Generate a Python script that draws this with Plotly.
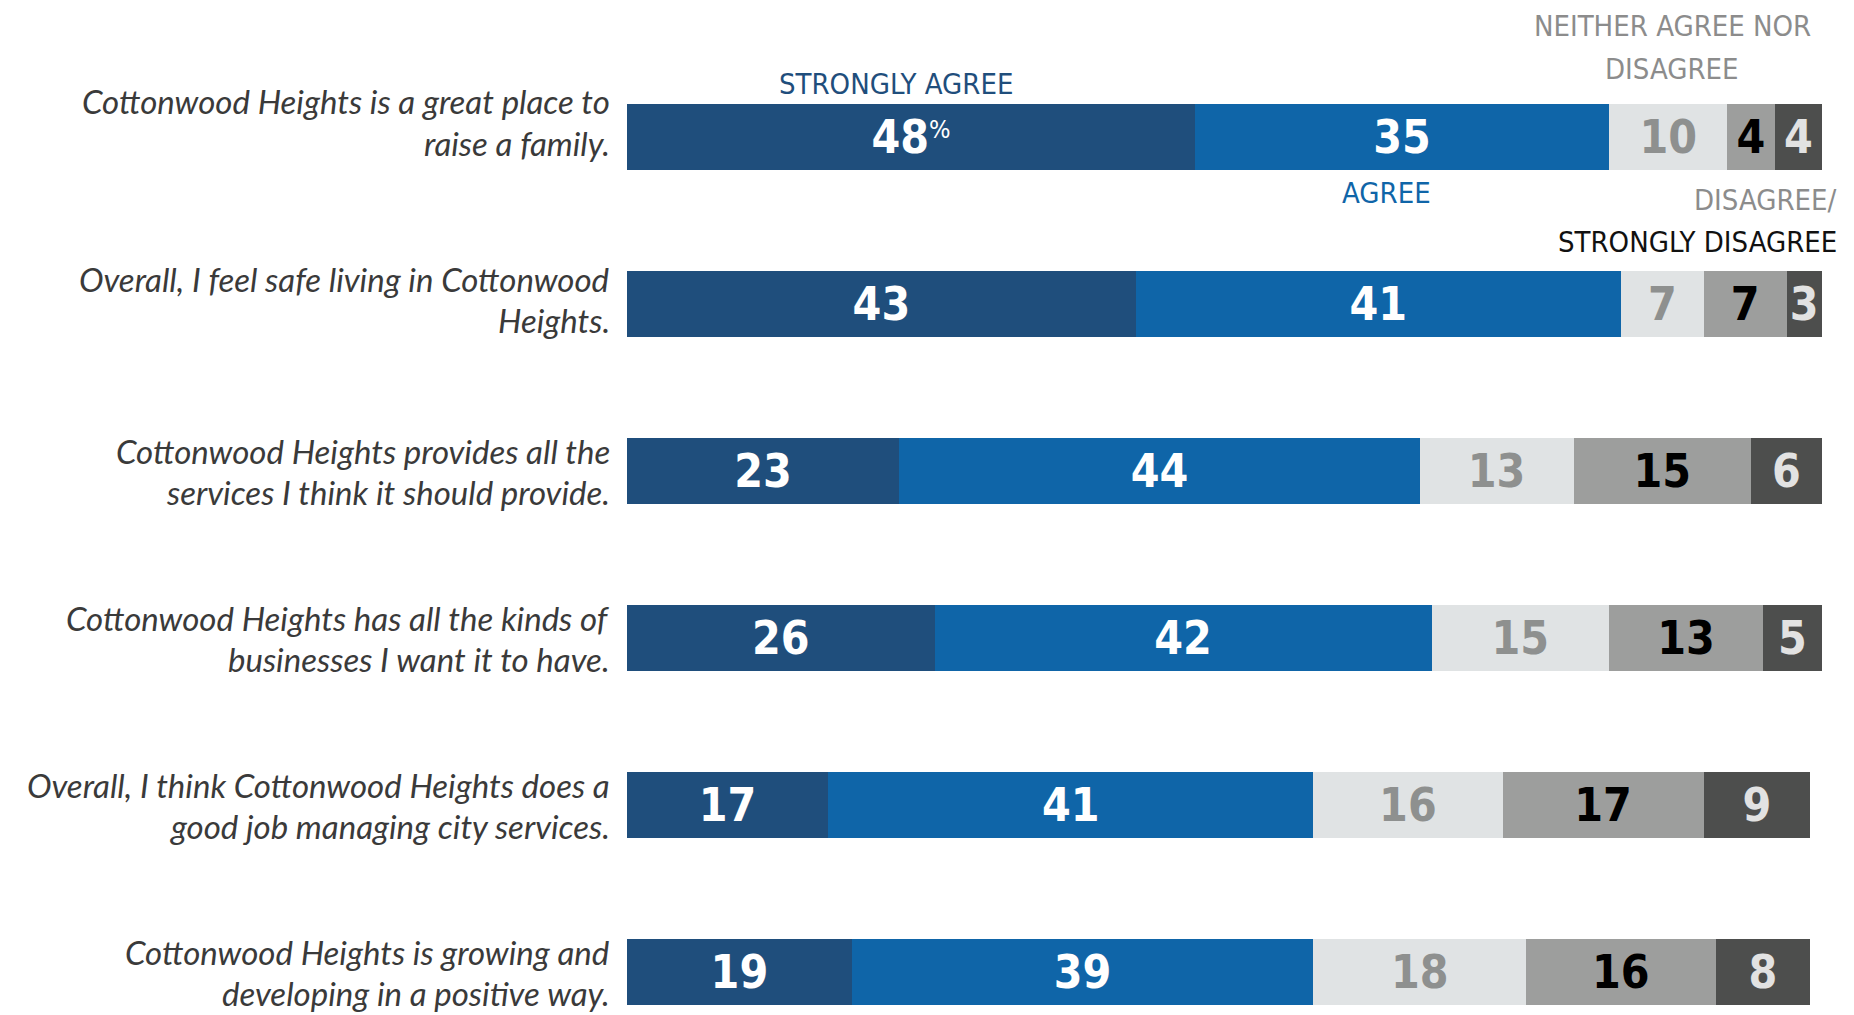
import plotly.graph_objects as go

statements = [
    ["Cottonwood Heights is a great place to", "raise a family."],
    ["Overall, I feel safe living in Cottonwood", "Heights."],
    ["Cottonwood Heights provides all the", "services I think it should provide."],
    ["Cottonwood Heights has all the kinds of", "businesses I want it to have."],
    ["Overall, I think Cottonwood Heights does a", "good job managing city services."],
    ["Cottonwood Heights is growing and", "developing in a positive way."],
]
categories = ["q1", "q2", "q3", "q4", "q5", "q6"]

strongly_agree = [48, 43, 23, 26, 17, 19]
agree = [35, 41, 44, 42, 41, 39]
neither = [10, 7, 13, 15, 16, 18]
disagree = [4, 7, 15, 13, 17, 16]
strongly_disagree = [4, 3, 6, 5, 9, 8]

series_names = ["STRONGLY AGREE", "AGREE", "NEITHER AGREE NOR DISAGREE", "DISAGREE", "STRONGLY DISAGREE"]
series_values = [strongly_agree, agree, neither, disagree, strongly_disagree]
bar_colors = ["#1f4e7c", "#0f65a8", "#e0e3e4", "#9d9e9d", "#4d4e4d"]
text_colors = ["#ffffff", "#ffffff", "#8e908f", "#000000", "#e2e2e2"]

# page body has an 8px margin; figure is sized to fill the rest of the window
OFF = 8
W, H = 1854 - OFF, 1015 - OFF
ML, MR, MT, MB = 627 - OFF, 32, 0, 0
PW = W - ML - MR

NUM_FONT = "DejaVu Sans Condensed, Liberation Sans Narrow, Arial Narrow, sans-serif"
LEG_FONT = "DejaVu Sans Condensed, Liberation Sans Narrow, Arial Narrow, sans-serif"
LBL_FONT = "Lato, Noto Sans, sans-serif"

fig = go.Figure()
for i, (name, vals) in enumerate(zip(series_names, series_values)):
    texts = []
    for j, v in enumerate(vals):
        if i == 0 and j == 0:
            texts.append(f"<b>{v}</b><span style='font-size:36px'><sup>%</sup></span>")
        else:
            texts.append(f"<b>{v}</b>")
    fig.add_trace(go.Bar(
        y=categories, x=vals, orientation="h", name=name,
        marker=dict(color=bar_colors[i], line=dict(width=0)),
        text=texts, textposition="inside", insidetextanchor="middle",
        textangle=0, constraintext="none",
        textfont=dict(family=NUM_FONT, size=46, color=text_colors[i]),
        hoverinfo="skip",
    ))

def xp(px):
    return (px - OFF - ML) / PW

def yp(py):
    return 1 - (py - OFF) / H

annotations = []
offsets = [(36.5, -6), (25, -16), (20, -21), (20, -21), (20, -21), (20, -21)]
for cat, lines, (o1, o2) in zip(categories, statements, offsets):
    for line, off in zip(lines, (o1, o2)):
        annotations.append(dict(
            x=0, xref="paper", xanchor="right", xshift=-15,
            y=cat, yref="y", yanchor="middle", yshift=off,
            text=f"<i>{line}</i>", showarrow=False,
            font=dict(family=LBL_FONT, size=33, color="#3a3a3a"),
        ))

legend_items = [
    ("STRONGLY AGREE", 896, 84, "center", "#1f4e7c"),
    ("AGREE", 1386, 193, "center", "#0f65a8"),
    ("NEITHER AGREE NOR", 1672, 26, "center", "#8c8c8c"),
    ("DISAGREE", 1672, 69, "center", "#8c8c8c"),
    ("DISAGREE/", 1839, 200, "right", "#8c8c8c"),
    ("STRONGLY DISAGREE", 1839, 242, "right", "#111111"),
]
for text, px, py, anchor, col in legend_items:
    annotations.append(dict(
        x=xp(px), xref="paper", xanchor=anchor,
        y=yp(py), yref="paper", yanchor="middle",
        text=text, showarrow=False,
        font=dict(family=LEG_FONT, size=29, color=col),
    ))

row1_center = 137 - OFF
row_step = 167
y_top = -row1_center / row_step
y_bottom = 5 + (H - (row1_center + 5 * row_step)) / row_step

fig.update_layout(
    width=W, height=H,
    margin=dict(l=ML, r=MR, t=MT, b=MB),
    barmode="stack", bargap=0.605,
    showlegend=False,
    plot_bgcolor="white", paper_bgcolor="white",
    xaxis=dict(range=[0, 101], visible=False, fixedrange=True),
    yaxis=dict(categoryorder="array", categoryarray=categories,
               range=[y_bottom, y_top], visible=False, fixedrange=True),
    annotations=annotations,
)

fig.write_html("out.html")
